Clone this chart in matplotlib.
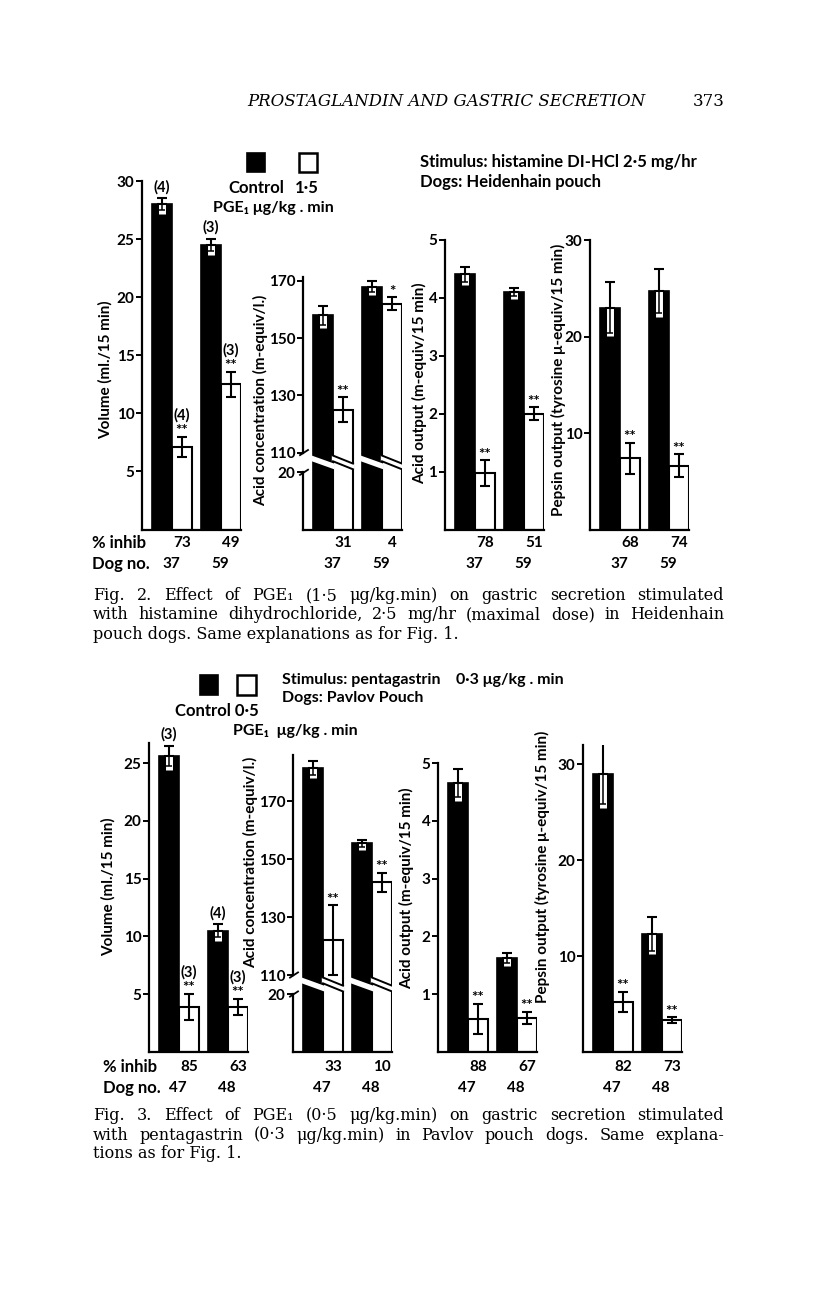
import matplotlib
matplotlib.use('Agg')
import matplotlib.pyplot as plt
from matplotlib.patches import Rectangle, Polygon

W, H = 816, 1296
SANS = ['Lato', 'DejaVu Sans']
SERIF = ['DejaVu Serif']

# ---------------- Fig. 2: histamine, Heidenhain pouch (dogs 37, 59)
fig2_dogs = ['37', '59']
fig2_volume_ctrl = [28.0, 24.5]
fig2_volume_ctrl_err = [0.5, 0.5]
fig2_volume_pge = [7.1, 12.5]
fig2_volume_pge_err = [0.9, 1.1]
fig2_conc_ctrl = [158, 168]
fig2_conc_ctrl_err = [3.3, 2.0]
fig2_conc_pge = [125, 162]
fig2_conc_pge_err = [4.3, 2.3]
fig2_acid_ctrl = [4.4, 4.1]
fig2_acid_ctrl_err = [0.13, 0.07]
fig2_acid_pge = [0.97, 2.0]
fig2_acid_pge_err = [0.22, 0.11]
fig2_pepsin_ctrl = [23.0, 24.7]
fig2_pepsin_ctrl_err = [2.6, 2.3]
fig2_pepsin_pge = [7.4, 6.6]
fig2_pepsin_pge_err = [1.6, 1.2]
fig2_inhib_volume = ['73', '49']
fig2_inhib_conc = ['31', '4']
fig2_inhib_acid = ['78', '51']
fig2_inhib_pepsin = ['68', '74']
fig2_n_ctrl = ['(4)', '(3)']
fig2_n_pge = ['(4)', '(3)']
fig2_sig_conc = ['**', '*']

# ---------------- Fig. 3: pentagastrin, Pavlov pouch (dogs 47, 48)
fig3_dogs = ['47', '48']
fig3_volume_ctrl = [25.6, 10.5]
fig3_volume_ctrl_err = [0.9, 0.55]
fig3_volume_pge = [3.9, 3.9]
fig3_volume_pge_err = [1.15, 0.7]
fig3_conc_ctrl = [181.5, 155.5]
fig3_conc_ctrl_err = [2.4, 1.2]
fig3_conc_pge = [122, 142]
fig3_conc_pge_err = [12, 3.3]
fig3_acid_ctrl = [4.65, 1.63]
fig3_acid_ctrl_err = [0.24, 0.09]
fig3_acid_pge = [0.57, 0.59]
fig3_acid_pge_err = [0.26, 0.11]
fig3_pepsin_ctrl = [29.0, 12.3]
fig3_pepsin_ctrl_err = [3.2, 1.75]
fig3_pepsin_pge = [5.2, 3.3]
fig3_pepsin_pge_err = [1.05, 0.3]
fig3_inhib_volume = ['85', '63']
fig3_inhib_conc = ['33', '10']
fig3_inhib_acid = ['88', '67']
fig3_inhib_pepsin = ['82', '73']
fig3_n_ctrl = ['(3)', '(4)']
fig3_n_pge = ['(3)', '(3)']

VOL_TICKS = [5, 10, 15, 20, 25, 30]
CONC_TICKS = [20, 110, 130, 150, 170]
ACID_TICKS = [1, 2, 3, 4, 5]
PEPSIN_TICKS = [10, 20, 30]

UNIT = 20.0          # px per bar width
LEAD = 0.5           # gap between y axis and first bar (bar widths)
STEP = 2.45          # distance between the starts of the two dog groups
XMAX = 4.95


def fx(x):
    return x / W


def fy(y):
    return 1 - y / H


def ptext(fig, x, y, s, size=11, ha='left', va='center', **kw):
    kw.setdefault('family', SANS)
    kw.setdefault('weight', 'bold')
    return fig.text(fx(x), fy(y), s, size=size, ha=ha, va=va, **kw)


def make_map(gap):
    """broken axis: 0-20 kept, values from 110 upward pushed down next to 20"""
    if gap is None:
        return lambda v: v
    return lambda v: v if v <= 20 else v - 110 + 20 + gap


def draw_panel(fig, left, bottom, top, ymax, ticks, ctrl, ctrl_err, pge, pge_err,
               inhib, dogs, n_ctrl=None, n_pge=None, sig=None, gap=None,
               rows=(14, 35)):
    m = make_map(gap)
    ax = fig.add_axes([fx(left), fy(bottom), XMAX * UNIT / W, (bottom - top) / H])
    ax.set_xlim(0, XMAX)
    ax.set_ylim(0, ymax)
    x0 = [LEAD + i * STEP for i in range(len(ctrl))]
    x1 = [x + 1 for x in x0]
    ax.bar(x0, [m(v) for v in ctrl], width=1, align='edge', color='black',
           edgecolor='black', lw=1.2, zorder=2)
    ax.bar(x1, [m(v) for v in pge], width=1, align='edge', color='white',
           edgecolor='black', lw=1.5, zorder=2)

    if gap is not None:
        c = (20 + m(110)) / 2.0
        h, s = 1.0, 1.4
        for xs, is_white in [(x0, False), (x1, True)]:
            for xa in xs:
                xb = xa + 1
                e = 0.06
                ax.add_patch(Polygon([(xa - e, c + h + s), (xb + e, c + h - s),
                                      (xb + e, c - h - s), (xa - e, c - h + s)],
                                     closed=True, facecolor='white', edgecolor='none',
                                     zorder=3))
                if is_white:
                    ax.plot([xa, xb], [c + h + s, c + h - s], color='black', lw=1.4, zorder=4)
                    ax.plot([xa, xb], [c - h + s, c - h - s], color='black', lw=1.4, zorder=4)
        ax.spines['left'].set_visible(False)
        ax.plot([0, 0], [0, 20], color='black', lw=1.6, clip_on=False, zorder=5)
        ax.plot([0, 0], [m(110), ymax], color='black', lw=1.6, clip_on=False, zorder=5)
        for yb in (20, m(110)):
            ax.plot([-0.15, 0.25], [yb - 0.9, yb + 0.9], color='black', lw=1.3,
                    clip_on=False, zorder=5)

    # error bars: inside black bars the lower whisker shows as a white box
    for xa, v, e in zip(x0, ctrl, ctrl_err):
        xm = xa + 0.5
        ax.plot([xm, xm], [m(v - e) - 0.012 * ymax, m(v)], color='white', lw=5,
                solid_capstyle='butt', zorder=5)
        ax.errorbar([xm], [m(v)], yerr=[[m(v) - m(v - e)], [0]], fmt='none',
                    ecolor='black', elinewidth=1.1, capsize=2.2, capthick=1.1, zorder=6)
        ax.errorbar([xm], [m(v)], yerr=[[0], [m(v + e) - m(v)]], fmt='none',
                    ecolor='black', elinewidth=1.5, capsize=3.5, capthick=1.5, zorder=6)
    for xa, v, e in zip(x1, pge, pge_err):
        ax.errorbar([xa + 0.5], [m(v)], yerr=[[m(v) - m(v - e)], [m(v + e) - m(v)]],
                    fmt='none', ecolor='black', elinewidth=1.5, capsize=3.5,
                    capthick=1.5, zorder=6)

    # annotations above bars
    if sig is None:
        sig = ['**'] * len(pge)
    for i, (xa, v, e) in enumerate(zip(x1, pge, pge_err)):
        ax.annotate(sig[i], (xa + 0.5, m(v + e)), xytext=(0, -1), textcoords='offset points',
                    ha='center', va='bottom', fontsize=11, fontweight='bold',
                    family=SANS, annotation_clip=False)
        if n_pge is not None:
            ax.annotate(n_pge[i], (xa + 0.5, m(v + e)), xytext=(0, 10),
                        textcoords='offset points', ha='center', va='bottom',
                        fontsize=10.5, fontweight='bold', family=SANS,
                        annotation_clip=False)
    if n_ctrl is not None:
        for i, (xa, v, e) in enumerate(zip(x0, ctrl, ctrl_err)):
            ax.annotate(n_ctrl[i], (xa + 0.5, m(v + e)), xytext=(0, 3),
                        textcoords='offset points', ha='center', va='bottom',
                        fontsize=10.5, fontweight='bold', family=SANS,
                        annotation_clip=False)

    # % inhibition and dog numbers under the panel
    for i in range(len(pge)):
        ax.annotate(inhib[i], (x1[i] + 0.5, 0), xytext=(0, -rows[0] * 0.72),
                    textcoords='offset points', ha='center', va='center',
                    fontsize=11, fontweight='bold', family=SANS, annotation_clip=False)
        ax.annotate(dogs[i], (x1[i] - 0.05, 0), xytext=(0, -rows[1] * 0.72),
                    textcoords='offset points', ha='center', va='center',
                    fontsize=11, fontweight='bold', family=SANS, annotation_clip=False)

    ax.set_yticks([m(t) for t in ticks])
    ax.set_yticklabels([str(t) for t in ticks], family=SANS, fontweight='bold', fontsize=11)
    ax.set_xticks([])
    ax.tick_params(axis='y', direction='out', length=4, width=1.4, pad=1.5)
    for sp in ['top', 'right']:
        ax.spines[sp].set_visible(False)
    ax.spines['left'].set_linewidth(1.6)
    ax.spines['bottom'].set_linewidth(1.6)
    ax.patch.set_alpha(0)
    return ax


def justify(fig, lines, x0, x1, y0, dy, size):
    """simple justified paragraph (last line left-aligned)"""
    r = fig.canvas.get_renderer()
    for k, line in enumerate(lines):
        words = line.split(' ')
        y = y0 + k * dy
        if k == len(lines) - 1:
            ptext(fig, x0, y, line, size=size, family=SERIF, weight='normal')
            continue
        arts = [ptext(fig, x0, y, w, size=size, family=SERIF, weight='normal') for w in words]
        widths = [a.get_window_extent(r).width for a in arts]
        space = (x1 - x0 - sum(widths)) / (len(words) - 1)
        x = x0
        for a, wd in zip(arts, widths):
            a.set_x(fx(x))
            x += wd + space


fig = plt.figure(figsize=(W / 100, H / 100), dpi=100)

# page header
fig.text(fx(446), fy(102), 'PROSTAGLANDIN AND GASTRIC SECRETION', family=SERIF,
         style='italic', size=12, ha='center', va='center')
fig.text(fx(725), fy(102), '373', family=SERIF, size=12, ha='right', va='center')

# ---- Fig. 2
B2 = 529.5
draw_panel(fig, 142, B2, 181, 30, VOL_TICKS, fig2_volume_ctrl, fig2_volume_ctrl_err,
           fig2_volume_pge, fig2_volume_pge_err, fig2_inhib_volume, fig2_dogs,
           n_ctrl=fig2_n_ctrl, n_pge=fig2_n_pge, rows=(13, 34))
draw_panel(fig, 303, B2, 277, (B2 - 277) / 2.86, CONC_TICKS, fig2_conc_ctrl,
           fig2_conc_ctrl_err, fig2_conc_pge, fig2_conc_pge_err, fig2_inhib_conc,
           fig2_dogs, sig=fig2_sig_conc, gap=6.9, rows=(13, 34))
draw_panel(fig, 445, B2, 239.5, 5, ACID_TICKS, fig2_acid_ctrl, fig2_acid_ctrl_err,
           fig2_acid_pge, fig2_acid_pge_err, fig2_inhib_acid, fig2_dogs, rows=(13, 34))
draw_panel(fig, 590, B2, 240, 30, PEPSIN_TICKS, fig2_pepsin_ctrl, fig2_pepsin_ctrl_err,
           fig2_pepsin_pge, fig2_pepsin_pge_err, fig2_inhib_pepsin, fig2_dogs, rows=(13, 34))

ptext(fig, 105, 370, 'Volume (ml./15 min)', rotation=90, ha='center')
ptext(fig, 261, 400, 'Acid concentration (m-equiv/l.)', rotation=90, ha='center')
ptext(fig, 420, 383, 'Acid output (m-equiv/15 min)', rotation=90, ha='center')
ptext(fig, 558, 380, 'Pepsin output (tyrosine μ-equiv/15 min)', rotation=90, ha='center')
ptext(fig, 92, 543, '% inhib', size=12)
ptext(fig, 92, 564, 'Dog no.', size=12)

fig.add_artist(Rectangle((fx(247), fy(172)), 18 / W, 19 / H, transform=fig.transFigure,
                         facecolor='black', edgecolor='black', lw=1.2))
fig.add_artist(Rectangle((fx(299), fy(172)), 18 / W, 19 / H, transform=fig.transFigure,
                         facecolor='white', edgecolor='black', lw=1.8))
ptext(fig, 256, 188, 'Control', ha='center', size=12)
ptext(fig, 307, 188, '1·5', ha='center', size=12)
ptext(fig, 273, 208, 'PGE₁ μg/kg . min', ha='center', size=11.5)
ptext(fig, 420, 162, 'Stimulus: histamine DI-HCl 2·5 mg/hr', size=12)
ptext(fig, 420, 182, 'Dogs: Heidenhain pouch', size=12)

# ---- Fig. 3
B3 = 1052
draw_panel(fig, 149, B3, 743, (B3 - 743) / 11.56, VOL_TICKS[:5], fig3_volume_ctrl,
           fig3_volume_ctrl_err, fig3_volume_pge, fig3_volume_pge_err, fig3_inhib_volume,
           fig3_dogs, n_ctrl=fig3_n_ctrl, n_pge=fig3_n_pge, rows=(15, 36))
draw_panel(fig, 293, B3, 755, (B3 - 755) / 2.9, CONC_TICKS, fig3_conc_ctrl,
           fig3_conc_ctrl_err, fig3_conc_pge, fig3_conc_pge_err, fig3_inhib_conc,
           fig3_dogs, gap=6.55, rows=(15, 36))
draw_panel(fig, 438, B3, 763, 5, ACID_TICKS, fig3_acid_ctrl, fig3_acid_ctrl_err,
           fig3_acid_pge, fig3_acid_pge_err, fig3_inhib_acid, fig3_dogs, rows=(15, 36))
draw_panel(fig, 583, B3, 745, (B3 - 745) / 9.6, PEPSIN_TICKS, fig3_pepsin_ctrl,
           fig3_pepsin_ctrl_err, fig3_pepsin_pge, fig3_pepsin_pge_err, fig3_inhib_pepsin,
           fig3_dogs, rows=(15, 36))

ptext(fig, 108, 887, 'Volume (ml./15 min)', rotation=90, ha='center')
ptext(fig, 251, 862, 'Acid concentration (m-equiv/l.)', rotation=90, ha='center')
ptext(fig, 407, 888, 'Acid output (m-equiv/15 min)', rotation=90, ha='center')
ptext(fig, 542, 867, 'Pepsin output (tyrosine μ-equiv/15 min)', rotation=90, ha='center')
ptext(fig, 103, 1067, '% inhib', size=12)
ptext(fig, 103, 1088, 'Dog no.', size=12)

fig.add_artist(Rectangle((fx(200), fy(695)), 18 / W, 20 / H, transform=fig.transFigure,
                         facecolor='black', edgecolor='black', lw=1.2))
fig.add_artist(Rectangle((fx(237), fy(695)), 19 / W, 20 / H, transform=fig.transFigure,
                         facecolor='white', edgecolor='black', lw=1.8))
ptext(fig, 217, 711, 'Control 0·5', ha='center', size=12)
ptext(fig, 295, 731, 'PGE₁  μg/kg . min', ha='center', size=11.5)
ptext(fig, 282, 680, 'Stimulus: pentagastrin    0·3 μg/kg . min', size=11.5)
ptext(fig, 282, 698, 'Dogs: Pavlov Pouch', size=11.5)

# captions
cap2 = ['Fig. 2. Effect of PGE₁ (1·5 μg/kg.min) on gastric secretion stimulated',
        'with histamine dihydrochloride, 2·5 mg/hr (maximal dose) in Heidenhain',
        'pouch dogs. Same explanations as for Fig. 1.']
cap3 = ['Fig. 3. Effect of PGE₁ (0·5 μg/kg.min) on gastric secretion stimulated',
        'with pentagastrin (0·3 μg/kg.min) in Pavlov pouch dogs. Same explana-',
        'tions as for Fig. 1.']
justify(fig, cap2, 93, 724, 596, 19, 11.5)
justify(fig, cap3, 93, 724, 1116, 19, 11.5)

fig.savefig('out.png', dpi=100)
